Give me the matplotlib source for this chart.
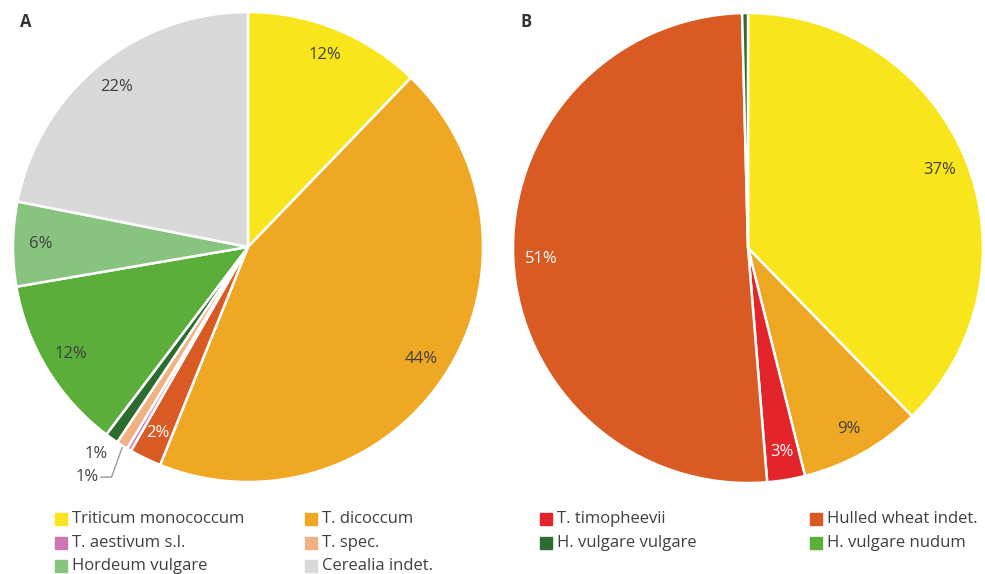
import numpy as np
import matplotlib
matplotlib.use("Agg")
import matplotlib.pyplot as plt

plt.rcParams['font.family'] = ['Open Sans', 'DejaVu Sans']

# legend categories and colours
names = ['Triticum monococcum', 'T. dicoccum', 'T. timopheevii', 'Hulled wheat indet.',
         'T. aestivum s.l.', 'T. spec.', 'H. vulgare vulgare', 'H. vulgare nudum',
         'Hordeum vulgare', 'Cerealia indet.']
colors = ['#F9E51C', '#EFA823', '#E3242B', '#DA5A24',
          '#CC77B4', '#F2B183', '#2E6B30', '#5BAE3A',
          '#88C47F', '#D9D9D9']

# panel A (clockwise from top)
a_names = ['Triticum monococcum', 'T. dicoccum', 'Hulled wheat indet.', 'T. aestivum s.l.',
           'T. spec.', 'H. vulgare vulgare', 'H. vulgare nudum', 'Hordeum vulgare',
           'Cerealia indet.']
a_vals = [12.2, 43.9, 2.2, 0.3, 0.8, 0.9, 12.0, 5.8, 21.9]
a_labels = ['12%', '44%', '2%', '', '1%', '1%', '12%', '6%', '22%']

# panel B
b_names = ['Triticum monococcum', 'T. dicoccum', 'T. timopheevii', 'Hulled wheat indet.',
           'H. vulgare vulgare']
b_vals = [37.7, 8.4, 2.6, 50.9, 0.4]
b_labels = ['37%', '9%', '3%', '51%', '']

white_text = ['Hulled wheat indet.', 'T. timopheevii']
W, H = 985, 574
fig = plt.figure(figsize=(W / 100, H / 100), dpi=100)


def panel(x0, y0, size, nm, vals, labs, letter):
    ax = fig.add_axes([x0 / W, 1 - (y0 + size) / H, size / W, size / H])
    cmap = dict(zip(names, colors))
    wedges, _ = ax.pie(vals, colors=[cmap[n] for n in nm], startangle=90, counterclock=False,
                       wedgeprops=dict(edgecolor='white', linewidth=1.8))
    for w, n, lab, v in zip(wedges, nm, labs, vals):
        if not lab:
            continue
        th = np.deg2rad((w.theta1 + w.theta2) / 2)
        if v >= 1.5:
            r = 0.88
            ax.text(r * np.cos(th), r * np.sin(th), lab, ha='center', va='center', fontsize=12,
                    color='white' if n in white_text else '#404040')
    ax.set_xlim(-1, 1)
    ax.set_ylim(-1, 1)
    ax.set_aspect('equal')
    ax.axis('off')
    fig.text((x0 + 7) / W, 1 - 22 / H, letter, fontsize=12, fontweight='bold', color='#333333',
             va='center')
    return ax, wedges


axA, wA = panel(13, 12, 470, a_names, a_vals, a_labels, 'A')
panel(513, 13, 470, b_names, b_vals, b_labels, 'B')

# small outside labels in panel A
w_hvv = wA[a_names.index('H. vulgare vulgare')]
th = np.deg2rad((w_hvv.theta1 + w_hvv.theta2) / 2)
axA.text(1.08 * np.cos(th) - 0.02, 1.08 * np.sin(th), '1%', ha='center', va='center',
         fontsize=12, color='#404040')
w_sp = wA[a_names.index('T. spec.')]
th = np.deg2rad((w_sp.theta1 + w_sp.theta2) / 2)
p0 = (1.0 * np.cos(th), 1.0 * np.sin(th))
axA.plot([p0[0], p0[0] - 0.045, p0[0] - 0.09], [p0[1] - 0.01, p0[1] - 0.135, p0[1] - 0.135],
         color='#999999', lw=1, clip_on=False)
axA.text(p0[0] - 0.1, p0[1] - 0.135, '1%', ha='right', va='center', fontsize=12, color='#404040')

# legend
col_x = [55, 305, 540, 810]
row_y = [519, 543, 566]
for i, (n, c) in enumerate(zip(names, colors)):
    x = col_x[i % 4]
    y = row_y[i // 4]
    fig.patches.append(plt.Rectangle((x / W, 1 - (y + 6) / H), 12 / W, 12 / H,
                                     transform=fig.transFigure, color=c))
    fig.text((x + 17) / W, 1 - y / H, n, fontsize=12, color='#404040', va='center')

fig.savefig('out.png', dpi=100)
